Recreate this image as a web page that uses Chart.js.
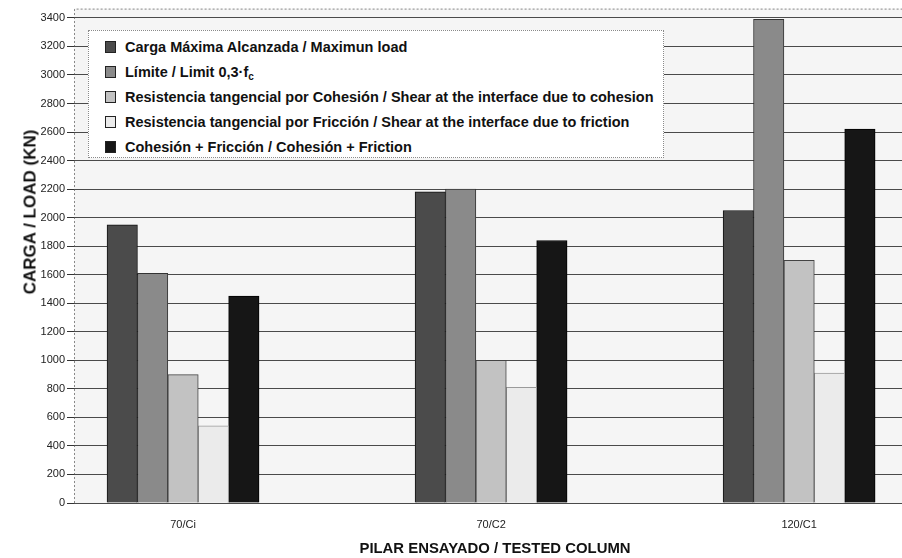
<!DOCTYPE html>
<html>
<head>
<meta charset="utf-8">
<script src="https://cdn.jsdelivr.net/npm/chart.js@4/dist/chart.umd.min.js"></script>
<style>
  html, body { margin: 0; padding: 0; background: #ffffff; }
  #wrap { position: relative; width: 902px; height: 558px; }
  #legend {
    position: absolute; left: 88px; top: 30px; width: 576px; height: 128px;
    background: #ffffff; border: 1px dotted #8a8a8a; box-sizing: border-box;
    font-family: "Liberation Sans", Arial, sans-serif; font-weight: bold;
    font-size: 14.5px; color: #111;
  }
  .item { position: absolute; left: 16px; height: 16px; line-height: 16px; white-space: nowrap; }
  .sw { position: absolute; left: 0; top: 2px; width: 11px; height: 12px; border: 1px solid #222; box-sizing: border-box; }
  .lbl { position: absolute; left: 20px; top: 0; }
  sub { font-size: 10px; vertical-align: -3px; line-height: 0; }
  .axisTitle {
    position: absolute; white-space: nowrap; color: #111; font-weight: bold;
    font-family: "Liberation Sans", Arial, sans-serif;
    transform: translate(-50%, -50%); line-height: 1;
  }
  #yTitle { left: 30px; top: 212px; font-size: 17px; transform: translate(-50%, -50%) rotate(-90deg); }
  #xTitle { left: 495px; top: 548px; font-size: 14.9px; }
</style>
</head>
<body>
<div id="wrap">
  <canvas id="c" width="902" height="558"></canvas>
  <div id="legend"></div>
  <div id="yTitle" class="axisTitle">CARGA / LOAD (KN)</div>
  <div id="xTitle" class="axisTitle">PILAR ENSAYADO / TESTED COLUMN</div>
</div>
<script>
// Tested columns and measured / computed loads (kN)
const categories = ['70/Ci', '70/C2', '120/C1'];
const cargaMaxima = [1950, 2180, 2050];
const limite = [1610, 2200, 3390];
const cohesion = [900, 1000, 1700];
const friccion = [540, 810, 910];
const cohesionFriccion = [1450, 1840, 2620];
const yTicks = [0, 200, 400, 600, 800, 1000, 1200, 1400, 1600, 1800, 2000, 2200, 2400, 2600, 2800, 3000, 3200, 3400];

const seriesNames = [
  'Carga Máxima Alcanzada / Maximun load',
  'Límite / Limit 0,3·f<sub>c</sub>',
  'Resistencia tangencial por Cohesión / Shear at the interface due to cohesion',
  'Resistencia tangencial por Fricción / Shear at the interface due to friction',
  'Cohesión + Fricción / Cohesión + Friction'
];
const seriesValues = [cargaMaxima, limite, cohesion, friccion, cohesionFriccion];
const fills = ['#4b4b4b', '#8a8a8a', '#c2c2c2', '#ebebeb', '#161616'];
const borders = ['#111111', '#333333', '#444444', '#9a9a9a', '#000000'];

const datasets = seriesValues.map((vals, i) => ({
  label: seriesNames[i].replace(/<[^>]+>/g, ''),
  data: vals.map((v, k) => ({ x: k, y: v })),
  backgroundColor: fills[i],
  borderColor: borders[i],
  borderWidth: 1,
  borderSkipped: 'bottom',
  barThickness: 30.4
}));

// Legend box drawn as HTML text
const legendEl = document.getElementById('legend');
seriesNames.forEach((name, i) => {
  const it = document.createElement('div');
  it.className = 'item';
  it.style.top = (8 + i * 25) + 'px';
  it.innerHTML = '<span class="sw" style="background:' + fills[i] + '"></span><span class="lbl">' + name + '</span>';
  legendEl.appendChild(it);
});

const plotBg = {
  id: 'plotBg',
  beforeDraw(chart) {
    const { ctx, chartArea: a } = chart;
    ctx.save();
    ctx.fillStyle = '#f5f5f5';
    ctx.fillRect(a.left, a.top, a.right - a.left, a.bottom - a.top);
    ctx.strokeStyle = '#888';
    ctx.lineWidth = 1;
    ctx.setLineDash([2, 2]);
    ctx.beginPath();
    ctx.moveTo(a.left + 0.5, a.bottom);
    ctx.lineTo(a.left + 0.5, a.top + 0.5);
    ctx.lineTo(a.right, a.top + 0.5);
    ctx.stroke();
    ctx.restore();
  }
};

new Chart(document.getElementById('c'), {
  type: 'bar',
  data: { datasets },
  plugins: [plotBg],
  options: {
    responsive: false,
    animation: false,
    layout: { padding: { top: 7, right: 0, left: 0, bottom: 0 } },
    plugins: { legend: { display: false }, tooltip: { enabled: false } },
    scales: {
      x: {
        type: 'linear',
        offset: false,
        min: -0.354,
        max: 2.334,
        afterBuildTicks(scale) { scale.ticks = categories.map((_, i) => ({ value: i })); },
        afterFit(scale) { scale.height = 55; },
        grid: { display: false, drawTicks: false },
        border: { display: false },
        ticks: {
          padding: 15,
          color: '#222',
          font: { family: 'Liberation Sans', size: 11 },
          callback: (v) => categories[v]
        }
      },
      y: {
        min: 0,
        max: 3465,
        afterBuildTicks(scale) { scale.ticks = yTicks.map(v => ({ value: v })); },
        afterFit(scale) { scale.width = 74; },
        grid: { color: '#4a4a4a', lineWidth: 1, tickLength: 7, tickColor: '#333' },
        border: { display: false },
        ticks: {
          padding: 2,
          color: '#222',
          font: { family: 'Liberation Sans', size: 11 },
          callback: (v) => String(v)
        }
      }
    }
  }
});
</script>
</body>
</html>
